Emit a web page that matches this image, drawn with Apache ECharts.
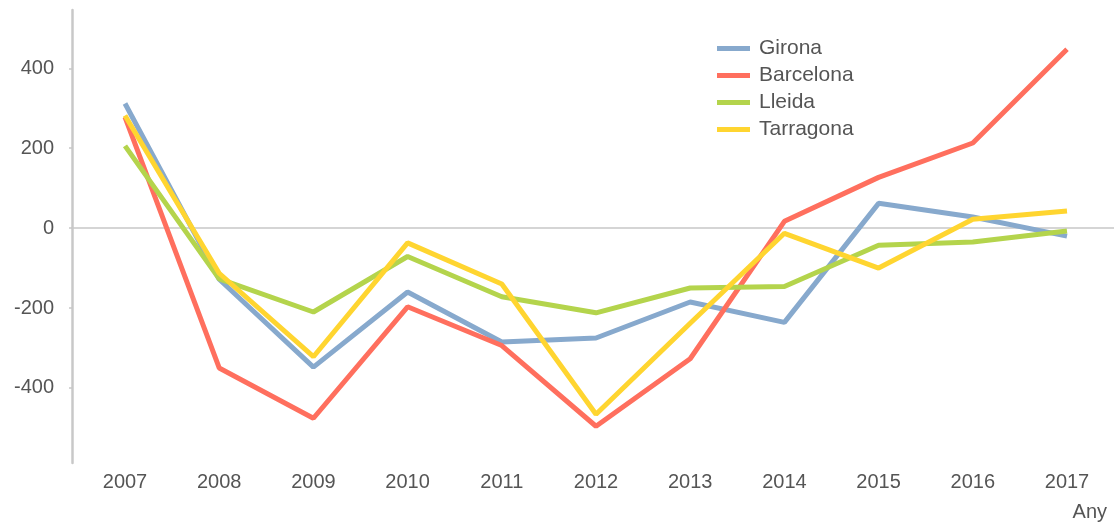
<!DOCTYPE html>
<html>
<head>
<meta charset="utf-8">
<script src="https://cdn.jsdelivr.net/npm/echarts@6/dist/echarts.min.js"></script>
<style>
  html, body { margin: 0; padding: 0; background: #fff; }
  #chartDiv { width: 1114px; height: 525px; }
</style>
</head>
<body>
<div id="chartDiv"></div>
<script>
var years = ['2007', '2008', '2009', '2010', '2011', '2012', '2013', '2014', '2015', '2016', '2017'];
var girona = [312, -128, -348, -160, -285, -275, -185, -236, 62, 28, -20];
var barcelona = [278, -350, -476, -197, -294, -496, -327, 17, 127, 213, 448];
var lleida = [206, -127, -210, -71, -172, -212, -150, -146, -43, -35, -7];
var tarragona = [282, -113, -322, -37, -140, -466, -238, -13, -100, 22, 43];
var yTicks = [-400, -200, 0, 200, 400];

var names = ['Girona', 'Barcelona', 'Lleida', 'Tarragona'];
var values = [girona, barcelona, lleida, tarragona];
var colors = ['#87a9cd', '#ff6f5e', '#b4d44c', '#ffd530'];

var myChart = echarts.init(document.getElementById('chartDiv'));
var font = 'Liberation Sans, Arial, sans-serif';

var series = [];
for (var i = 0; i < names.length; i++) {
    series.push({
        name: names[i],
        type: 'line',
        xAxisIndex: 1,
        yAxisIndex: 1,
        data: values[i],
        symbol: 'none',
        showSymbol: false,
        itemStyle: {color: colors[i]},
        lineStyle: {color: colors[i], width: 5}
    });
}

myChart.setOption({
    animation: false,
    color: colors,
    title: {
        text: 'Any',
        right: 2,
        bottom: -2,
        textStyle: {fontFamily: font, fontSize: 20, fontWeight: 'normal', color: '#555'}
    },
    legend: {
        orient: 'vertical',
        left: 712,
        top: 33,
        icon: 'rect',
        itemWidth: 33,
        itemHeight: 5,
        itemGap: 6,
        data: names,
        textStyle: {fontFamily: font, fontSize: 21, color: '#555', padding: [0, 0, 0, 4]}
    },
    grid: [
        {left: 72, right: 0, top: 10, bottom: 62},
        {left: 125, right: 47, top: 10, bottom: 62}
    ],
    xAxis: [
        {
            type: 'value', gridIndex: 0, min: 0, max: 1,
            axisLine: {show: true, onZero: true, lineStyle: {color: '#c8c8c8', width: 1.5}},
            axisTick: {show: false},
            axisLabel: {show: false},
            splitLine: {show: false}
        },
        {
            type: 'category', gridIndex: 1, data: years, boundaryGap: false,
            axisLine: {show: false},
            axisTick: {show: false},
            axisLabel: {margin: 9, fontFamily: font, fontSize: 20, color: '#555'}
        }
    ],
    yAxis: [
        {
            type: 'value', gridIndex: 0, min: -588, max: 546,
            axisLine: {show: true, lineStyle: {color: '#c8c8c8', width: 2.5}},
            axisTick: {show: true, length: 3, customValues: yTicks, lineStyle: {color: '#c8c8c8', width: 1.5}},
            axisLabel: {margin: 18, customValues: yTicks, fontFamily: font, fontSize: 20, color: '#555'},
            splitLine: {show: false}
        },
        {
            type: 'value', gridIndex: 1, min: -588, max: 546, show: false
        }
    ],
    series: series
});
</script>
</body>
</html>
